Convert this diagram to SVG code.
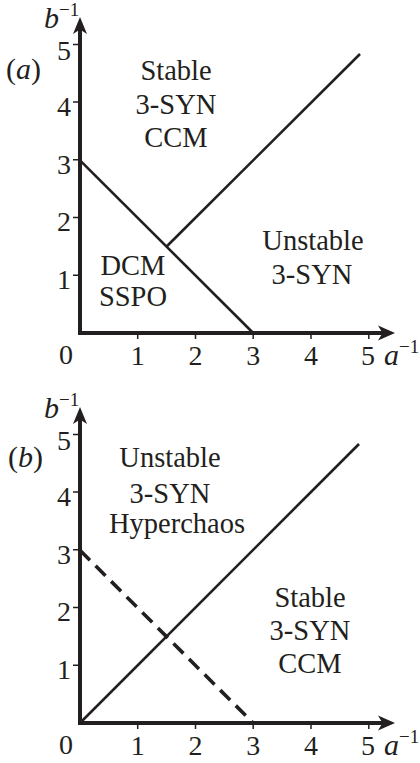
<svg xmlns="http://www.w3.org/2000/svg" width="420" height="763" viewBox="0 0 420 763">
<style>
text{font-family:"Liberation Serif","Times New Roman",serif;fill:#231f20}
.t{font-size:30px}
.l{font-size:28.5px;text-anchor:middle}
.n{font-size:28px;text-anchor:middle}
.ax{stroke:#231f20;stroke-width:4;fill:none}
.tk{stroke:#231f20;stroke-width:1.5}
.ln{stroke:#231f20;stroke-width:2.6;fill:none}
.ds{stroke:#231f20;stroke-width:3.6;fill:none;stroke-dasharray:14 8}
.ah{fill:#231f20}
.sup{font-size:19px}
</style>
<defs>
<g id="axes">
<path class="ax" d="M80,26 V333 H387"/>
<path class="ah" d="M80,17 L73,34 L80,29.5 L87,34 Z"/>
<path class="ah" d="M395,333 L378,325.5 L382.5,333 L378,340.5 Z"/>
<path class="tk" d="M73,44.5H80M73,102H80M73,159.7H80M73,217.5H80M73,275.2H80"/>
<path class="tk" d="M137.7,333V339M195.5,333V339M253.2,333V339M311,333V339M368.8,333V339"/>
<text class="n" x="66" y="364">0</text>
<text class="n" x="137.7" y="365">1</text>
<text class="n" x="195.5" y="365">2</text>
<text class="n" x="253.2" y="365">3</text>
<text class="n" x="311" y="365">4</text>
<text class="n" x="368" y="365">5</text>
<text class="n" x="64" y="60">5</text>
<text class="n" x="64" y="116">4</text>
<text class="n" x="64" y="174">3</text>
<text class="n" x="64" y="231">2</text>
<text class="n" x="64" y="289">1</text>
<text class="t" x="384" y="365"><tspan font-style="italic">a</tspan><tspan class="sup" dy="-12">−1</tspan></text>
<text class="t" x="44" y="28"><tspan font-style="italic">b</tspan><tspan class="sup" dy="-12">−1</tspan></text>
</g>
</defs>
<g id="panel-a">
<use href="#axes"/>
<text class="t" x="6" y="79">(<tspan font-style="italic">a</tspan>)</text>
<g id="connectors-a">
<path class="ln" d="M80,160.3 L253.2,333"/>
<path class="ln" d="M166.6,246.5 L360,54"/>
</g>
<g id="region-a-stable">
<text class="l" x="176" y="80">Stable</text>
<text class="l" x="176" y="114">3-SYN</text>
<text class="l" x="176" y="147">CCM</text>
</g>
<g id="region-a-unstable">
<text class="l" x="313" y="250">Unstable</text>
<text class="l" x="312" y="284">3-SYN</text>
</g>
<g id="region-a-dcm">
<text class="l" x="133" y="275">DCM</text>
<text class="l" x="133" y="306">SSPO</text>
</g>
</g>
<g id="panel-b">
<use href="#axes" y="390"/>
<text class="t" x="8" y="467">(<tspan font-style="italic">b</tspan>)</text>
<g id="connectors-b">
<path class="ds" d="M80,550.3 L253.2,723"/>
<path class="ln" d="M80,723 L359,444"/>
</g>
<g id="region-b-unstable">
<text class="l" x="170" y="467">Unstable</text>
<text class="l" x="170" y="503">3-SYN</text>
<text class="l" x="177" y="533">Hyperchaos</text>
</g>
<g id="region-b-stable">
<text class="l" x="310" y="607">Stable</text>
<text class="l" x="310" y="640">3-SYN</text>
<text class="l" x="310" y="673">CCM</text>
</g>
</g>
</svg>
